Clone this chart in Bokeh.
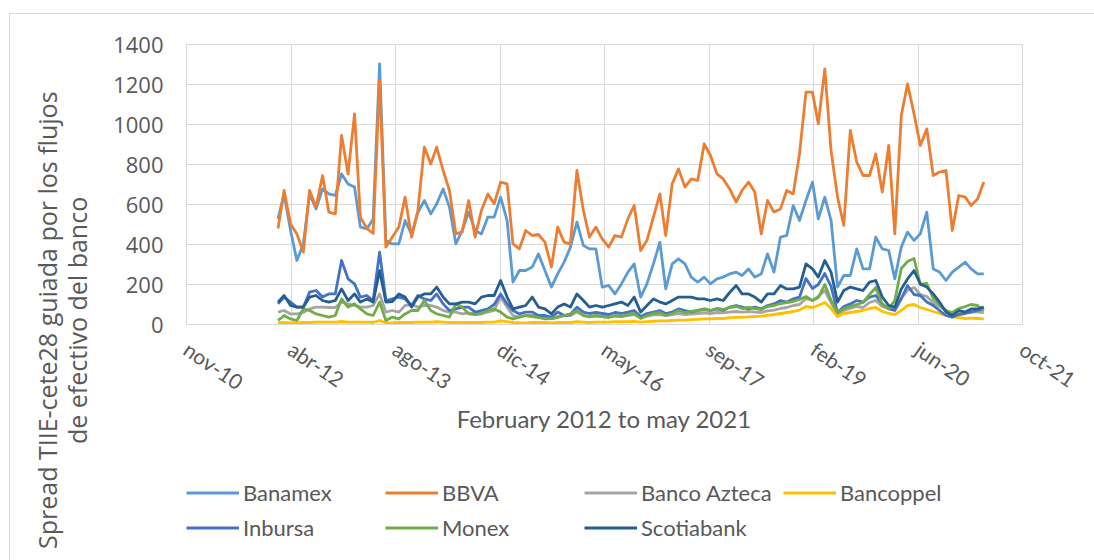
import pandas as pd
from bokeh.plotting import figure
from bokeh.layouts import column, row
from bokeh.models import FixedTicker, Legend, LegendItem, Range1d, Div
from bokeh.embed import file_html
from bokeh.resources import INLINE

# ---------------- data ----------------
start_month = "2012-02-01"
n_months = 112

banamex = [528, 653, 470, 320, 403, 653, 578, 678, 653, 645, 753, 703, 687, 487, 478, 528, 1303, 420, 403, 403,
           520, 450, 560, 620, 553, 603, 678, 587, 403, 470, 562, 470, 453, 537, 537, 637, 520, 212, 270, 270,
           287, 353, 270, 187, 253, 312, 387, 512, 395, 378, 378, 187, 195, 153, 203, 262, 303, 137, 203, 303,
           412, 178, 303, 328, 303, 237, 212, 237, 203, 228, 237, 253, 262, 245, 278, 237, 253, 353, 262, 437,
           445, 595, 520, 620, 712, 528, 637, 520, 187, 245, 245, 378, 278, 278, 437, 378, 370, 228, 387, 462,
           420, 453, 562, 278, 262, 220, 262, 287, 312, 278, 253, 253]
bbva = [480, 670, 503, 453, 362, 670, 587, 745, 562, 553, 945, 753, 1053, 537, 480, 455, 1220, 387, 437, 487,
        637, 437, 570, 887, 803, 887, 770, 670, 453, 462, 620, 437, 570, 653, 603, 712, 703, 403, 378, 470,
        445, 450, 412, 287, 487, 412, 403, 770, 570, 437, 487, 428, 387, 445, 437, 528, 595, 370, 420, 537,
        653, 445, 703, 778, 687, 728, 720, 903, 845, 753, 728, 678, 612, 670, 712, 662, 453, 620, 562, 578,
        670, 653, 853, 1162, 1162, 1003, 1278, 870, 637, 495, 970, 812, 745, 745, 853, 662, 895, 453, 1045, 1203,
        1053, 895, 978, 745, 762, 770, 470, 645, 637, 595, 628, 712]
azteca = [62, 70, 53, 53, 60, 78, 87, 87, 85, 85, 112, 103, 95, 87, 87, 95, 153, 62, 70, 62,
          95, 100, 87, 95, 95, 87, 70, 62, 62, 53, 58, 53, 58, 62, 70, 137, 87, 45, 37, 45,
          45, 40, 40, 28, 40, 45, 45, 62, 45, 40, 42, 40, 38, 42, 40, 45, 50, 35, 42, 48,
          50, 45, 50, 55, 50, 52, 55, 58, 55, 60, 58, 62, 65, 62, 65, 62, 60, 68, 72, 80,
          85, 95, 100, 130, 120, 140, 170, 110, 50, 70, 80, 90, 85, 110, 120, 90, 80, 75, 130, 170,
          185, 150, 140, 110, 90, 70, 55, 55, 60, 65, 62, 60]
bancoppel = [8, 10, 8, 8, 10, 10, 12, 12, 12, 12, 15, 12, 12, 12, 12, 10, 20, 8, 8, 10,
             10, 10, 12, 12, 12, 14, 12, 10, 10, 10, 10, 10, 10, 12, 12, 18, 14, 10, 8, 8,
             10, 10, 10, 8, 10, 10, 10, 14, 12, 10, 12, 12, 12, 14, 14, 14, 16, 12, 14, 16,
             18, 18, 20, 22, 22, 24, 26, 28, 28, 30, 30, 34, 36, 36, 38, 40, 42, 46, 50, 55,
             60, 65, 72, 90, 85, 95, 110, 80, 40, 55, 60, 65, 70, 80, 85, 65, 55, 50, 70, 95,
             100, 85, 75, 65, 55, 45, 38, 35, 30, 32, 30, 28]
inbursa = [103, 137, 112, 87, 87, 162, 170, 137, 153, 153, 320, 228, 203, 137, 145, 120, 362, 120, 128, 137,
           128, 95, 145, 128, 120, 153, 103, 70, 78, 87, 87, 62, 70, 78, 100, 153, 103, 70, 53, 62,
           62, 45, 45, 37, 62, 45, 50, 87, 62, 55, 60, 55, 50, 60, 55, 62, 70, 40, 55, 62,
           70, 55, 62, 78, 70, 62, 70, 78, 70, 78, 70, 87, 95, 87, 78, 87, 78, 95, 103, 120,
           112, 128, 137, 230, 180, 200, 255, 190, 60, 90, 103, 120, 112, 137, 145, 103, 78, 70, 130, 195,
           150, 145, 112, 95, 70, 45, 37, 50, 55, 62, 70, 78]
monex = [20, 45, 28, 20, 78, 70, 53, 45, 37, 45, 128, 87, 103, 78, 53, 45, 112, 20, 37, 28,
         53, 70, 70, 120, 70, 53, 45, 37, 103, 87, 53, 50, 53, 70, 78, 62, 37, 28, 37, 45,
         40, 35, 28, 30, 35, 45, 53, 70, 45, 38, 45, 40, 35, 45, 40, 50, 55, 30, 45, 55,
         60, 45, 55, 70, 60, 65, 70, 75, 70, 80, 75, 85, 90, 80, 85, 80, 75, 90, 95, 105,
         110, 115, 125, 140, 120, 135, 200, 120, 60, 80, 90, 100, 110, 150, 185, 100, 80, 120, 280, 315,
         330, 200, 205, 130, 100, 70, 60, 80, 90, 100, 95, 70]
scotiabank = [112, 145, 95, 87, 87, 137, 145, 120, 112, 120, 178, 120, 153, 112, 128, 112, 270, 112, 115, 153,
              137, 87, 137, 153, 153, 187, 137, 103, 103, 112, 112, 103, 137, 145, 145, 220, 137, 78, 87, 95,
              137, 87, 78, 53, 87, 103, 87, 153, 120, 87, 95, 87, 95, 103, 112, 95, 137, 62, 95, 128,
              112, 103, 120, 137, 137, 137, 128, 128, 120, 128, 120, 160, 195, 153, 153, 137, 112, 153, 153, 195,
              178, 178, 187, 303, 278, 237, 320, 262, 112, 170, 187, 178, 170, 212, 220, 137, 95, 87, 178, 228,
              270, 203, 187, 153, 112, 62, 45, 70, 62, 78, 78, 87]

series_names = ["Banamex", "BBVA", "Banco Azteca", "Bancoppel", "Inbursa", "Monex", "Scotiabank"]
series_values = [banamex, bbva, azteca, bancoppel, inbursa, monex, scotiabank]
series_colors = ["#5B9BD5", "#ED7D31", "#A5A5A5", "#FFC000", "#4472C4", "#70AD47", "#255E91"]

axis_start = "2010-11-20"
tick_step_days = 500
tick_labels = ["nov-10", "abr-12", "ago-13", "dic-14", "may-16", "sep-17", "feb-19", "jun-20", "oct-21"]
y_ticks = [0, 200, 400, 600, 800, 1000, 1200, 1400]
x_title = "February 2012 to may 2021"
y_title_lines = ["Spread TIIE-cete28 guiada por los flujos", "de efectivo del banco"]

# ---------------- main chart ----------------
months = pd.date_range(start_month, periods=n_months, freq="MS")
t0 = pd.Timestamp(axis_start)
tick_ts = [t0 + pd.Timedelta(days=tick_step_days * k) for k in range(len(tick_labels))]
tick_ms = [t.value / 1e6 for t in tick_ts]

GREY = "#595959"
GRID = "#D9D9D9"
TITLE_W = 90

p = figure(frame_width=836, frame_height=280, x_axis_type="datetime",
           min_border_left=176 - TITLE_W, min_border_right=72, min_border_top=30, min_border_bottom=136,
           output_backend="svg", toolbar_location=None, margin=0,
           x_range=Range1d(tick_ms[0], tick_ms[-1]), y_range=Range1d(0, 1400))
p.background_fill_color = "white"
p.border_fill_color = "white"
p.outline_line_color = GRID

p.xaxis.ticker = FixedTicker(ticks=tick_ms)
p.xaxis.major_label_overrides = {m: l for m, l in zip(tick_ms, tick_labels)}
p.xaxis.major_label_orientation = -0.6
p.xaxis.major_label_text_font = "Lato"
p.xaxis.major_label_text_font_size = "21px"
p.xaxis.major_label_text_color = GREY
p.xaxis.major_label_standoff = 16
p.xaxis.axis_line_color = GRID
p.xaxis.major_tick_line_color = None
p.xaxis.minor_tick_line_color = None
p.xaxis.axis_label = x_title
p.xaxis.axis_label_text_font = "Lato"
p.xaxis.axis_label_text_font_size = "24px"
p.xaxis.axis_label_text_font_style = "normal"
p.xaxis.axis_label_text_color = GREY
p.xaxis.axis_label_standoff = -6

p.yaxis.ticker = FixedTicker(ticks=y_ticks)
p.yaxis.major_label_text_font = "Open Sans"
p.yaxis.major_label_text_font_size = "22px"
p.yaxis.major_label_text_color = GREY
p.yaxis.major_label_standoff = 23
p.yaxis.major_tick_out = 0
p.yaxis.major_tick_in = 0
p.yaxis.axis_line_color = None
p.yaxis.major_tick_line_color = None
p.yaxis.minor_tick_line_color = None

p.xgrid.grid_line_color = GRID
p.ygrid.grid_line_color = GRID

for name, vals, col in zip(series_names, series_values, series_colors):
    p.line(months, vals, line_color=col, line_width=2.8, line_join="round")

# ---------------- legend strip ----------------
q = figure(width=836 + 176 - TITLE_W + 72, height=100, x_range=Range1d(0, 1), y_range=Range1d(0, 1),
           x_axis_location=None, y_axis_location=None, min_border=0, margin=0,
           output_backend="svg", toolbar_location=None)
q.grid.visible = False
q.outline_line_color = None
q.background_fill_color = "white"
q.border_fill_color = "white"

leg_renderers = [q.line(months, vals, line_color=col, line_width=2.8)
                 for vals, col in zip(series_values, series_colors)]
legend = Legend(items=[LegendItem(label=n, renderers=[r]) for n, r in zip(series_names, leg_renderers)],
                location=(0, 15), orientation="horizontal", ncols=4,
                padding=0, margin=0, spacing=0,
                border_line_color=None, background_fill_alpha=0,
                glyph_width=53, glyph_height=35, label_standoff=4,
                label_text_font="Lato", label_text_font_size="22px",
                label_text_color=GREY, label_height=35, label_width=142)
q.add_layout(legend)

# ---------------- y-axis title (two centred lines, reading upwards) ----------------
title_html = (
    '<div style="writing-mode: vertical-rl; transform: rotate(180deg); height: 480px; '
    'margin-top: 66px; margin-left: 22px; text-align: center; font-family: \'Open Sans\'; '
    'font-size: 25px; line-height: 30px; color: #595959; white-space: nowrap;">'
    + "<br>".join(y_title_lines) + "</div>"
)
ytitle = Div(text=title_html, width=TITLE_W, height=546, margin=0)

layout = row(ytitle, column(p, q, spacing=0, margin=0), spacing=0, margin=(14, 0, 0, 10),
             styles={"outline": "1px solid #D9D9D9"})

open("out.html", "w").write(file_html(layout, INLINE))
